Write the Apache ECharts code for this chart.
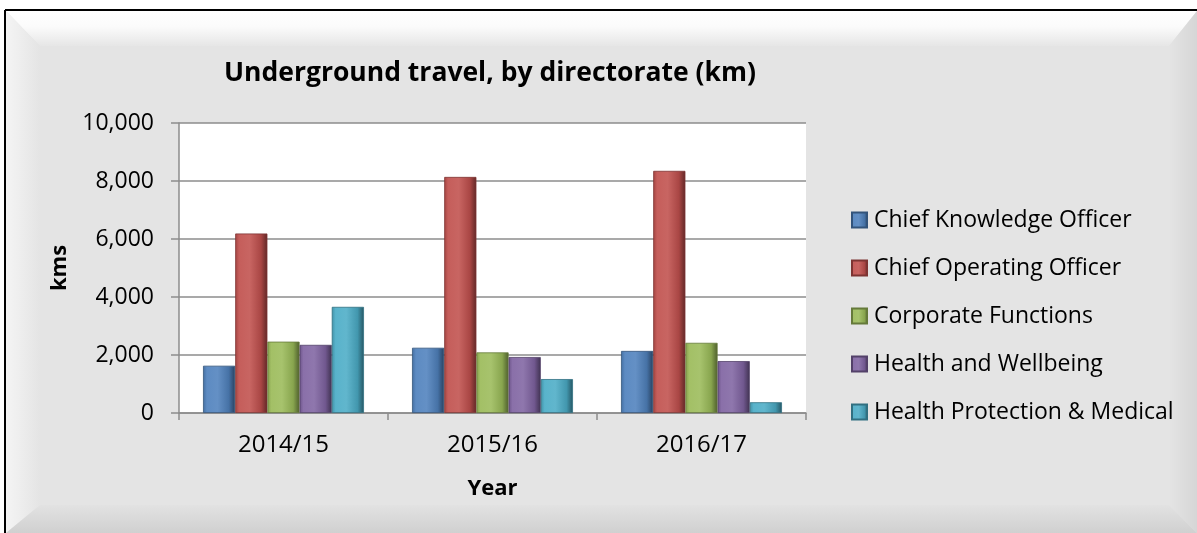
<!DOCTYPE html>
<html>
<head>
<meta charset="utf-8">
<script src="https://cdn.jsdelivr.net/npm/echarts@6/dist/echarts.min.js"></script>
<style>
  html, body { margin: 0; padding: 0; background: #fff; }
  #chart { width: 1197px; height: 533px; }
</style>
</head>
<body>
<div id="chart"></div>
<script>
// Underground travel per directorate, km per financial year
const years = ['2014/15', '2015/16', '2016/17'];
const directorates = [
  'Chief Knowledge Officer',
  'Chief Operating Officer',
  'Corporate Functions',
  'Health and Wellbeing',
  'Health Protection & Medical'
];
const chiefKnowledgeOfficer = [1630, 2250, 2140];
const chiefOperatingOfficer = [6190, 8140, 8350];
const corporateFunctions = [2460, 2090, 2420];
const healthAndWellbeing = [2350, 1930, 1790];
const healthProtectionMedical = [3660, 1170, 370];
const yTicks = [0, 2000, 4000, 6000, 8000, 10000];

const seriesValues = [
  chiefKnowledgeOfficer,
  chiefOperatingOfficer,
  corporateFunctions,
  healthAndWellbeing,
  healthProtectionMedical
];
const baseColors = ['#4f81bd', '#c0504d', '#9bbb59', '#8064a2', '#4bacc6'];

const FONT = '"Open Sans", "Noto Sans", sans-serif';

function mix(hex, target, t) {
  const n = parseInt(hex.slice(1), 16);
  const r = (n >> 16) & 255, g = (n >> 8) & 255, b = n & 255;
  const m = (c) => Math.round(c + (target - c) * t);
  return `rgb(${m(r)},${m(g)},${m(b)})`;
}

// Bevelled bar look: lit left-centre, shaded right edge
function barFill(hex) {
  return new echarts.graphic.LinearGradient(0, 0, 1, 0, [
    { offset: 0, color: mix(hex, 0, 0.15) },
    { offset: 0.12, color: mix(hex, 255, 0.08) },
    { offset: 0.45, color: mix(hex, 255, 0.12) },
    { offset: 0.8, color: mix(hex, 0, 0.12) },
    { offset: 1, color: mix(hex, 0, 0.5) }
  ]);
}

const chart = echarts.init(document.getElementById('chart'), null, { renderer: 'canvas' });

const W = 1197, H = 533;
const frameGraphics = [
  // bevel: top (light)
  { type: 'polygon', z: -10, silent: true,
    shape: { points: [[6, 11], [W, 11], [W - 28, 46], [40, 46]] },
    style: { fill: new echarts.graphic.LinearGradient(0, 0, 0, 1, [
      { offset: 0, color: '#ffffff' }, { offset: 0.45, color: '#fbfbfb' }, { offset: 1, color: '#e6e6e6' }]) } },
  // bevel: left (light)
  { type: 'polygon', z: -10, silent: true,
    shape: { points: [[6, 11], [40, 46], [40, H - 28], [6, H]] },
    style: { fill: new echarts.graphic.LinearGradient(0, 0, 1, 0, [
      { offset: 0, color: '#f4f4f4' }, { offset: 0.4, color: '#eeeeee' }, { offset: 1, color: '#e4e4e4' }]) } },
  // bevel: right (shade)
  { type: 'polygon', z: -10, silent: true,
    shape: { points: [[W, 11], [W, H], [W - 28, H - 28], [W - 28, 46]] },
    style: { fill: new echarts.graphic.LinearGradient(0, 0, 1, 0, [
      { offset: 0, color: '#e4e4e4' }, { offset: 1, color: '#d6d6d6' }]) } },
  // bevel: bottom (shade)
  { type: 'polygon', z: -10, silent: true,
    shape: { points: [[6, H], [40, H - 28], [W - 28, H - 28], [W, H]] },
    style: { fill: new echarts.graphic.LinearGradient(0, 0, 0, 1, [
      { offset: 0, color: '#e2e2e2' }, { offset: 1, color: '#d0d0d0' }]) } },
  // outer frame lines
  { type: 'line', z: 10, silent: true, shape: { x1: 5, y1: 10, x2: W, y2: 10 },
    style: { stroke: '#000', lineWidth: 2 } },
  { type: 'line', z: 10, silent: true, shape: { x1: 5, y1: 10, x2: 5, y2: H },
    style: { stroke: '#000', lineWidth: 2 } },
  { type: 'rect', z: -20, silent: true, shape: { x: 0, y: 0, width: W, height: 10 },
    style: { fill: '#ffffff' } },
  { type: 'rect', z: -20, silent: true, shape: { x: 0, y: 0, width: 5, height: H },
    style: { fill: '#ffffff' } }
];

const option = {
  backgroundColor: '#e4e4e4',
  animation: false,
  textStyle: { fontFamily: FONT },
  graphic: frameGraphics,
  title: {
    text: 'Underground travel, by directorate (km)',
    left: 485,
    top: 55,
    textAlign: 'center',
    textStyle: { fontFamily: FONT, fontSize: 26.5, fontWeight: 'bold', color: '#000' }
  },
  legend: {
    orient: 'vertical',
    left: 846,
    top: 202,
    itemWidth: 15,
    itemHeight: 15,
    itemGap: 22,
    icon: 'rect',
    data: directorates,
    textStyle: { fontFamily: FONT, fontSize: 23, color: '#000', lineHeight: 26, padding: [0, 0, 0, 2] }
  },
  grid: {
    left: 179,
    right: W - 806,
    top: 123,
    bottom: H - 413,
    show: true,
    backgroundColor: '#ffffff',
    borderWidth: 0
  },
  xAxis: {
    type: 'category',
    data: years,
    name: 'Year',
    nameLocation: 'middle',
    nameGap: 65,
    nameTextStyle: { fontFamily: FONT, fontSize: 22, fontWeight: 'bold', color: '#000' },
    axisLine: { lineStyle: { color: '#8c8c8c', width: 1.5 } },
    axisTick: { show: true, length: 7, lineStyle: { color: '#8c8c8c', width: 1.5 } },
    axisLabel: { fontFamily: FONT, fontSize: 24, color: '#000', margin: 20 }
  },
  yAxis: {
    type: 'value',
    min: 0,
    max: 10000,
    interval: 2000,
    name: 'kms',
    nameLocation: 'middle',
    nameGap: 108,
    nameRotate: 90,
    nameTextStyle: { fontFamily: FONT, fontSize: 22, fontWeight: 'bold', color: '#000' },
    axisLine: { show: true, lineStyle: { color: '#8c8c8c', width: 1.5 } },
    axisTick: { show: true, length: 8, lineStyle: { color: '#8c8c8c', width: 1.5 } },
    axisLabel: {
      fontFamily: FONT, fontSize: 23, color: '#000', margin: 25,
      formatter: (v) => yTicks.includes(v) ? v.toLocaleString('en-US') : ''
    },
    splitLine: { lineStyle: { color: '#8c8c8c', width: 1.5 } }
  },
  series: directorates.map((name, i) => ({
    name,
    type: 'bar',
    data: seriesValues[i],
    barGap: '0%',
    barCategoryGap: '23%',
    itemStyle: {
      color: barFill(baseColors[i]),
      borderColor: mix(baseColors[i], 0, 0.35),
      borderWidth: 0.8
    }
  }))
};

chart.setOption(option);
</script>
</body>
</html>
